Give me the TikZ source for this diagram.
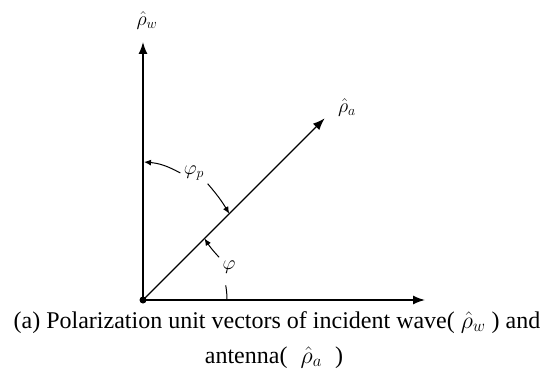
\RequirePackage{fix-cm}
\documentclass[tikz,border=0pt]{standalone}
\usepackage{fontspec}
\setmainfont{Liberation Serif}
\usetikzlibrary{arrows.meta}
\begin{document}
\begin{tikzpicture}[x=1pt,y=1pt,
    vec/.style={line width=1.4pt,-{Latex[length=12pt,width=9pt]}},
    anglearrow/.style={line width=1pt,-{Latex[length=7pt,width=6pt]}},
    lbl/.style={font=\fontsize{20}{20}\selectfont},
    captext/.style={font=\fontsize{24}{24}\selectfont,inner sep=0pt}]
    % Define the page size
    \useasboundingbox (-143,-80) rectangle (405,300);

    % Define the origin and the vector tips
    \coordinate (O) at (0,0);
    \coordinate (W) at (0,258);
    \coordinate (X) at (282,0);
    \coordinate (A) at (45:257);

    % Draw the unit vectors
    \draw[vec] (O) -- (W);
    \draw[vec] (O) -- (X);
    \draw[vec] (O) -- (A);
    \fill (O) circle (3.5pt);

    % Label the vectors
    \node[lbl] (rhow) at (4,279) {$\hat{\rho}_w$};
    \node[lbl] (rhoa) at (204,192) {$\hat{\rho}_a$};

    % Angle between the two vectors
    \node[lbl] (phip) at (51,127) {$\varphi_p$};
    \coordinate (Wp) at (1,138);
    \coordinate (Ap) at (45:122);
    \draw[anglearrow] (phip.west) to[bend right=12] (Wp);
    \draw[anglearrow] (phip.south east) to[bend left=5] (Ap);

    % Angle to the horizontal axis
    \node[lbl] (phi) at (86,33) {$\varphi$};
    \coordinate (Ah) at (45:87);
    \draw[anglearrow] (phi.north west) to[bend left=5] (Ah);
    \draw[line width=1pt] (84,0) arc[start angle=0,end angle=10,radius=84];

    % Caption, two lines
    \node[captext,anchor=base] (cap1) at (134,-28)
        {(a) Polarization unit vectors of incident wave( $\hat{\rho}_w$ ) and};
    \node[captext,anchor=base] (cap2) at (131,-63)
        {antenna(\hspace{0.3em} $\hat{\rho}_a$ \hspace{0.3em})};
\end{tikzpicture}
\end{document}
